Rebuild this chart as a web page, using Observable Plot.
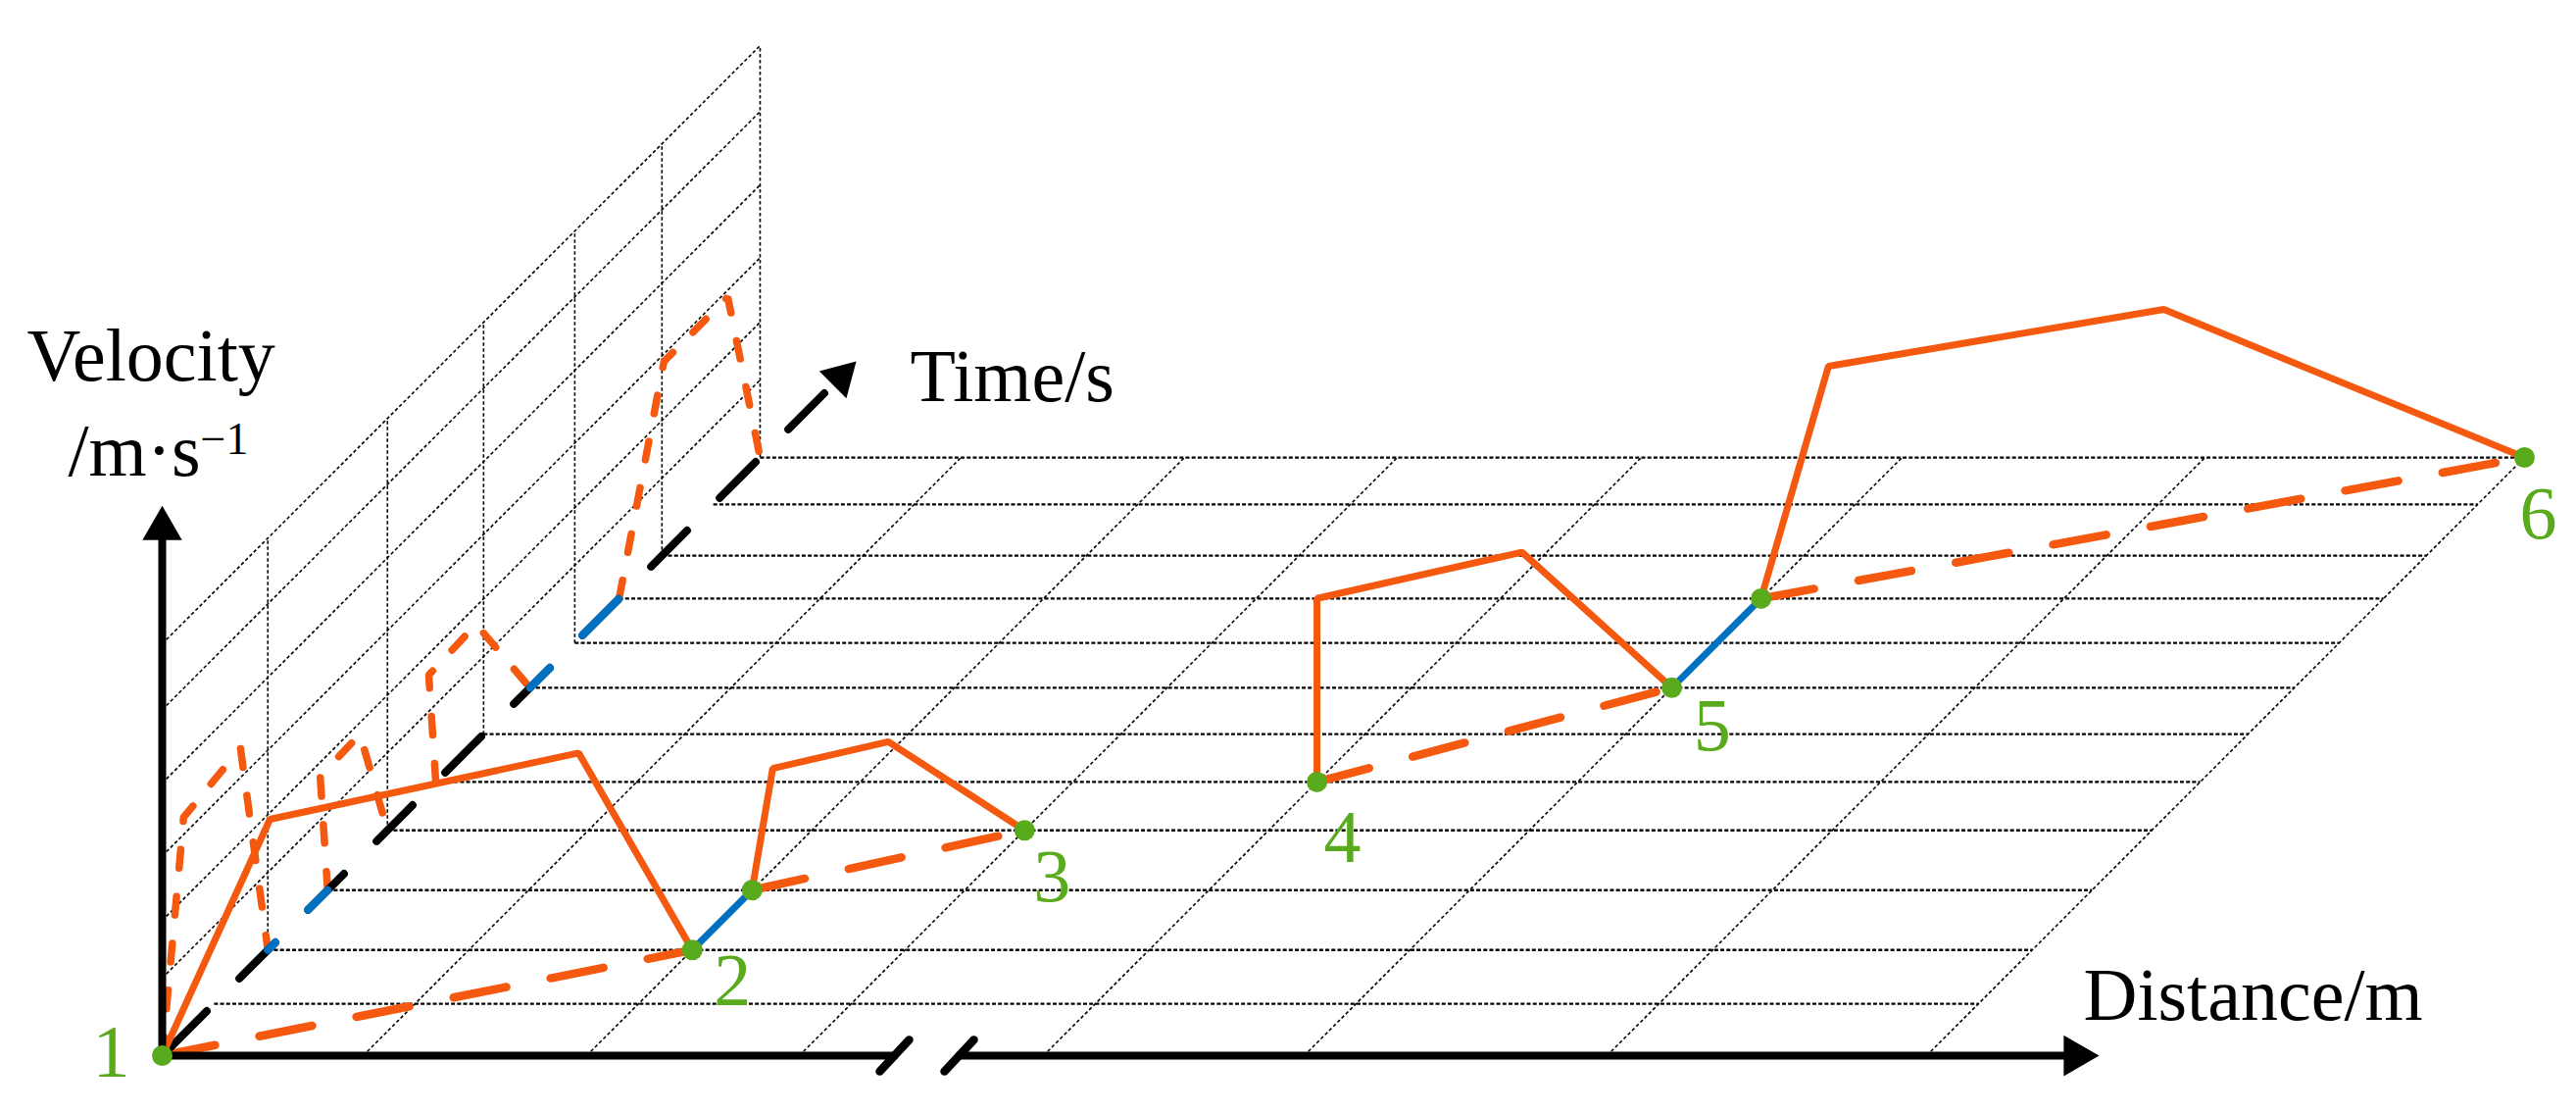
<!DOCTYPE html>
<html>
<head>
<meta charset="utf-8">
<script src="https://cdn.jsdelivr.net/npm/d3@7"></script>
<script src="https://cdn.jsdelivr.net/npm/@observablehq/plot@0.6"></script>
<style>
  html, body { margin: 0; padding: 0; background: #fff; }
  #chart svg { display: block; }
</style>
</head>
<body>
<div id="chart"></div>
<script>
// ---------------- data ----------------
// floor grid: time lines (s) and distance lines (m, arbitrary units)
const timeGrid = [1.04, 2.12, 3.32, 4.52, 5.49, 6.45, 7.38, 8.28, 9.17, 10.03, 11.06, 12];
const wallTimes = [2.12, 4.52, 6.45, 8.28, 10.03, 12];
const distGrid = [2.05, 4.33, 6.5, 8.99, 11.65, 14.74, 18.0];
const velGrid = [1.13, 1.97, 2.91, 3.97, 5.04, 6.0];

// stations 1..6
const stationLabel = ["1", "2", "3", "4", "5", "6"];
const stationDist = [0, 4.33, 6.5, 8.99, 11.65, 18.0];
const stationTime = [0, 2.12, 4.52, 5.49, 7.38, 12];
// dwell (stop) periods: station index and departure time
const dwellStation = [1, 4];
const dwellEnd = [3.32, 9.17];

// running phases: 3-D vertices (distance, time, velocity)
const run1D = [0, 0.88, 3.45, 4.33],    run1T = [0, 0.43, 1.57, 2.12],   run1V = [0, 3.13, 3.27, 0];
const run2D = [4.33, 4.51, 5.39, 6.5],  run2T = [3.32, 3.38, 3.97, 4.52], run2V = [0, 1.73, 1.69, 0];
const run3D = [8.99, 8.98, 10.67, 11.65], run3T = [5.49, 5.51, 6.30, 7.38], run3V = [0, 2.66, 2.76, 0];
const run4D = [11.65, 11.88, 14.65, 18.0], run4T = [9.17, 10.07, 11.35, 12], run4V = [0, 2.73, 2.63, 0];

// velocity-time profile as drawn on the back wall
const prof1T = [0, 0.43, 1.57, 2.12],    prof1V = [0, 3.16, 3.34, 0];
const prof2T = [3.32, 3.17, 3.97, 4.52], prof2V = [0, 1.77, 1.80, 0];
const prof3T = [5.49, 5.35, 6.30, 7.38], prof3V = [0, 1.66, 1.71, 0];
const prof4T = [9.17, 10.07, 11.35, 12], prof4V = [0, 2.80, 2.81, 0];

// axis extents
const velAxisMax = 8.01, timeAxisMax = 13.93, distAxisMax = 19.76;
const distBreak = [7.47, 8.13];

// ---------------- layout / projection ----------------
const W = 2628, H = 1135, X0 = 165, Y0 = 1076;
const kD = 100, kT = 50.83, kV = 70;           // px per unit along each 3-D axis
const P = (d, t, v) => ({x: d * kD + t * kT, y: t * kT + v * kV});
const seg = (a, b) => ({x1: a.x, y1: a.y, x2: b.x, y2: b.y});
const L = {x1: "x1", y1: "y1", x2: "x2", y2: "y2"};

const green = "#5AAA1E", orange = "#F5580F", blue = "#0070C0";
const serif = "Liberation Serif, Times New Roman, serif";

const floorEdge = distGrid[distGrid.length - 1];
const timeMax = timeGrid[timeGrid.length - 1];
const wallTop = velGrid[velGrid.length - 1];

const runs = [[run1D, run1T, run1V], [run2D, run2T, run2V], [run3D, run3T, run3V], [run4D, run4T, run4V]];
const profs = [[prof1T, prof1V], [prof2T, prof2V], [prof3T, prof3V], [prof4T, prof4V]];

const gridStyle = {stroke: "#000", strokeWidth: 1.6, strokeDasharray: "3.5,2.5"};
const marks = [];

// back wall grid
marks.push(Plot.link(velGrid.map(v => seg(P(0, 0, v), P(0, timeMax, v))), {...L, ...gridStyle}));
marks.push(Plot.link(wallTimes.map(t => seg(P(0, t, 0), P(0, t, wallTop))), {...L, ...gridStyle}));
// floor grid
marks.push(Plot.link(distGrid.map(d => seg(P(d, 0, 0), P(d, timeMax, 0))), {...L, ...gridStyle}));
marks.push(Plot.link(timeGrid.map(t => seg(P(0, t, 0), P(floorEdge, t, 0))),
  {...L, stroke: "#000", strokeWidth: 2.3, strokeDasharray: "4,2.2"}));

// distance-time projection on the floor (dashed)
runs.forEach(([D, T]) => {
  const n = D.length - 1;
  marks.push(Plot.line([P(D[0], T[0], 0), P(D[n], T[n], 0)],
    {x: "x", y: "y", stroke: orange, strokeWidth: 8.5, strokeDasharray: "55,46", strokeLinecap: "round"}));
});

// velocity-time projection on the wall (dashed)
profs.forEach(([T, V]) => {
  marks.push(Plot.line(T.map((t, i) => P(0, t, V[i])),
    {x: "x", y: "y", stroke: orange, strokeWidth: 7.5, strokeDasharray: "19,29",
     strokeLinecap: "round", strokeLinejoin: "miter"}));
});

// time axis (black dashed) with arrow head
const headR = 14.5;
const headH = 3 * Math.sqrt(Math.PI * headR * headR / (3 * Math.sqrt(3)));
const diag = Math.SQRT2;
const tipT = P(0, timeAxisMax, 0);
const timeLineEnd = timeAxisMax - (headH * 0.8) / diag / kT;
const axisDash = {strokeWidth: 8, strokeDasharray: "52,47", strokeLinecap: "round"};
const axisOff = 86.75;
marks.push(Plot.line([P(0, 0, 0), P(0, timeLineEnd, 0)], {x: "x", y: "y", stroke: "#000", ...axisDash, strokeDashoffset: axisOff}));
dwellStation.forEach((s, i) => {
  const t0 = stationTime[s], t1 = dwellEnd[i];
  marks.push(Plot.line([P(0, t0, 0), P(0, t1, 0)],
    {x: "x", y: "y", stroke: blue, ...axisDash, strokeDashoffset: axisOff + t0 * kT * diag}));
});

// 3-D velocity curve (solid)
runs.forEach(([D, T, V]) => {
  marks.push(Plot.line(D.map((d, i) => P(d, T[i], V[i])),
    {x: "x", y: "y", stroke: orange, strokeWidth: 7, strokeLinejoin: "miter", strokeLinecap: "butt"}));
});
// dwell segments on the floor (solid blue)
dwellStation.forEach((s, i) => {
  marks.push(Plot.line([P(stationDist[s], stationTime[s], 0), P(stationDist[s], dwellEnd[i], 0)],
    {x: "x", y: "y", stroke: blue, strokeWidth: 7}));
});

// velocity & distance axes
const vHeadR = 15, dHeadR = 15.5;
const vHeadH = 3 * Math.sqrt(Math.PI * vHeadR * vHeadR / (3 * Math.sqrt(3)));
const dHeadH = 3 * Math.sqrt(Math.PI * dHeadR * dHeadR / (3 * Math.sqrt(3)));
const velLineEnd = velAxisMax - (vHeadH * 0.9) / kV;
const distLineEnd = distAxisMax - (dHeadH * 0.9) / kD;
marks.push(Plot.line([P(0, 0, velLineEnd), P(0, 0, 0), P(distBreak[0], 0, 0)],
  {x: "x", y: "y", stroke: "#000", strokeWidth: 8, strokeLinejoin: "miter"}));
marks.push(Plot.line([P(distBreak[1], 0, 0), P(distLineEnd, 0, 0)],
  {x: "x", y: "y", stroke: "#000", strokeWidth: 8}));
// axis break marks
marks.push(Plot.link(distBreak.map(d => seg(P(d - 0.15, 0, -0.23), P(d + 0.15, 0, 0.23))),
  {...L, stroke: "#000", strokeWidth: 8.5, strokeLinecap: "round"}));

// arrow heads
const vTip = P(0, 0, velAxisMax), dTip = P(distAxisMax, 0, 0);
const heads = [
  {x: vTip.x, y: vTip.y - 2 / 3 * vHeadH, r: vHeadR, rot: 0},
  {x: dTip.x - 2 / 3 * dHeadH, y: dTip.y, r: dHeadR, rot: 90},
  {x: tipT.x - 2 / 3 * headH / diag, y: tipT.y - 2 / 3 * headH / diag, r: headR, rot: 45}
];
heads.forEach(h => marks.push(Plot.dot([h], {x: "x", y: "y", r: h.r, symbol: "triangle", rotate: h.rot, fill: "#000", stroke: "none"})));

// stations and departure points
const pts = stationDist.map((d, i) => P(d, stationTime[i], 0))
  .concat(dwellStation.map((s, i) => P(stationDist[s], dwellEnd[i], 0)));
marks.push(Plot.dot(pts, {x: "x", y: "y", r: 10.5, fill: green, stroke: "none"}));

// station numbers
const labelNudge = [[-52, 21], [41, 56], [28, 72], [26, 82], [41, 64], [14, 82]];
stationLabel.forEach((lab, i) => {
  const p = P(stationDist[i], stationTime[i], 0);
  marks.push(Plot.text([{...p, lab}], {x: "x", y: "y", text: "lab", dx: labelNudge[i][0], dy: labelNudge[i][1],
    textAnchor: "middle", lineAnchor: "bottom", fill: green, fontSize: 76, fontFamily: serif}));
});

// axis titles
const title = (txt, dx, dy, size) => Plot.text([txt], {text: d => d, frameAnchor: "top-left", dx, dy,
  textAnchor: "start", lineAnchor: "bottom", fill: "#000", fontSize: size, fontFamily: serif});
marks.push(title("Velocity", 27, 387, 76));
marks.push(title("/m\u00B7s", 69, 484, 76));
marks.push(title("\u22121", 204, 462, 46));
marks.push(title("Time/s", 928, 408, 76));
marks.push(title("Distance/m", 2125, 1039, 76));

const chart = Plot.plot({
  width: W, height: H, margin: 0,
  x: {domain: [-X0, W - X0], range: [0, W], axis: null},
  y: {domain: [-(H - Y0), Y0], range: [H, 0], axis: null},
  style: {background: "#fff", fontFamily: serif, overflow: "visible"},
  marks
});
document.getElementById("chart").appendChild(chart);
</script>
</body>
</html>
